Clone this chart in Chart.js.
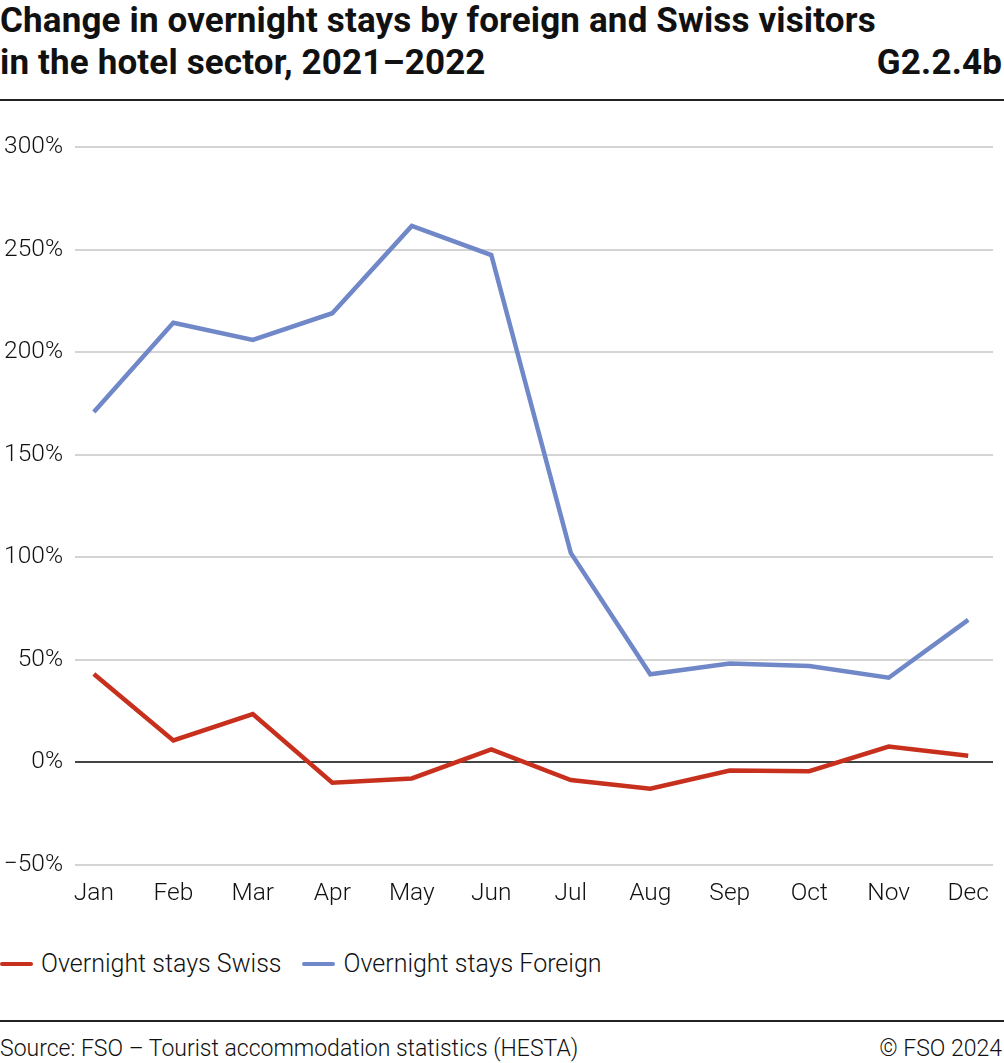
<!DOCTYPE html><html lang="en">
<head>
  <meta charset="UTF-8" />
  <title>Overnight stays G2.2.4b</title>
  <script src="https://cdn.jsdelivr.net/npm/chart.js"></script>
  <style>
    body {
      margin: 0;
      width: 1004px;
      height: 1063px;
      background: #fff;
      font-family: Roboto, sans-serif;
      color: #111;
      position: relative;
      overflow: hidden;
    }
    .title {
      position: absolute;
      left: 0;
      top: 0px;
      font-size: 35px;
      font-weight: bold;
      line-height: 42px;
      letter-spacing: 0.15px;
      white-space: nowrap;
    }
    .code {
      position: absolute;
      right: 2px;
      top: 42px;
      font-size: 35px;
      font-weight: bold;
      line-height: 42px;
      letter-spacing: 0.15px;
    }
    .rule {
      position: absolute;
      left: 0;
      width: 1004px;
      height: 2px;
      background: #222;
    }
    #wrap {
      position: absolute;
      left: 0;
      top: 100px;
      width: 1004px;
      height: 820px;
    }
    .legend {
      position: absolute;
      left: 0;
      top: 949px;
      font-size: 25px;
      font-weight: 300;
      display: flex;
      gap: 21px;
    }
    .legend span.item { display: flex; align-items: center; }
    .legend i {
      display: inline-block;
      width: 33px;
      height: 4px;
      border-radius: 2px;
      margin-right: 8px;
    }
    .foot {
      position: absolute;
      top: 1035px;
      font-size: 23px;
      font-weight: 300;
    }
  </style>
</head>
<body>
  <div class="title">Change in overnight stays by foreign and Swiss visitors<br>in the hotel sector, 2021–2022</div>
  <div class="code">G2.2.4b</div>
  <div class="rule" style="top:99px"></div>
  <div id="wrap"><canvas id="lineChart"></canvas></div>
  <div class="legend">
    <span class="item"><i style="background:#c8301e"></i>Overnight stays Swiss</span>
    <span class="item"><i style="background:#7088c8"></i>Overnight stays Foreign</span>
  </div>
  <div class="rule" style="top:1020px"></div>
  <div class="foot" style="left:0">Source: FSO – Tourist accommodation statistics (HESTA)</div>
  <div class="foot" style="right:2px">© FSO 2024</div>
<script>
const months = ["Jan", "Feb", "Mar", "Apr", "May", "Jun", "Jul", "Aug", "Sep", "Oct", "Nov", "Dec"];
const swiss = [42.9, 10.5, 23.4, -10.1, -8.0, 6.2, -8.8, -13.0, -4.2, -4.5, 7.5, 3.0];
const foreign = [170.7, 214.3, 205.9, 218.9, 261.5, 247.3, 102.0, 42.8, 48.0, 46.8, 41.1, 69.3];
const yTicks = [-50, 0, 50, 100, 150, 200, 250, 300];

const toPoints = arr => arr.map((v, i) => ({ x: i, y: v }));

new Chart(lineChart, {
  type: 'line',
  data: {
    datasets: [
      { label: 'Overnight stays Swiss', data: toPoints(swiss), borderColor: '#c8301e', borderWidth: 4.5, pointRadius: 0, tension: 0 },
      { label: 'Overnight stays Foreign', data: toPoints(foreign), borderColor: '#7088c8', borderWidth: 4.5, pointRadius: 0, tension: 0 }
    ]
  },
  options: {
    responsive: true,
    maintainAspectRatio: false,
    animation: false,
    layout: { padding: { top: 47, right: 4, left: 0, bottom: 0 } },
    plugins: { legend: { display: false }, tooltip: { enabled: false } },
    scales: {
      x: {
        type: 'linear',
        min: -0.237,
        max: 11.312,
        afterBuildTicks: s => { s.ticks = months.map((m, i) => ({ value: i })); },
        afterFit: s => { s.height = 55.5; },
        grid: { display: false, drawTicks: false },
        border: { display: false },
        ticks: {
          padding: 15,
          color: '#111',
          font: { family: 'Roboto', size: 24.5, weight: 300 },
          callback: v => months[v]
        }
      },
      y: {
        min: -50,
        max: 300,
        afterBuildTicks: s => { s.ticks = yTicks.map(v => ({ value: v })); },
        afterFit: s => { s.width = 75; },
        grid: {
          drawTicks: false,
          lineWidth: 2,
          color: c => c.tick && c.tick.value === 0 ? '#444' : '#d4d4d4'
        },
        border: { display: false },
        ticks: {
          padding: 12,
          color: '#111',
          font: { family: 'Roboto', size: 24.5, weight: 300 },
          callback: v => (v < 0 ? '−' + Math.abs(v) : v) + '%'
        }
      }
    }
  }
});
</script>
</body>
</html>
